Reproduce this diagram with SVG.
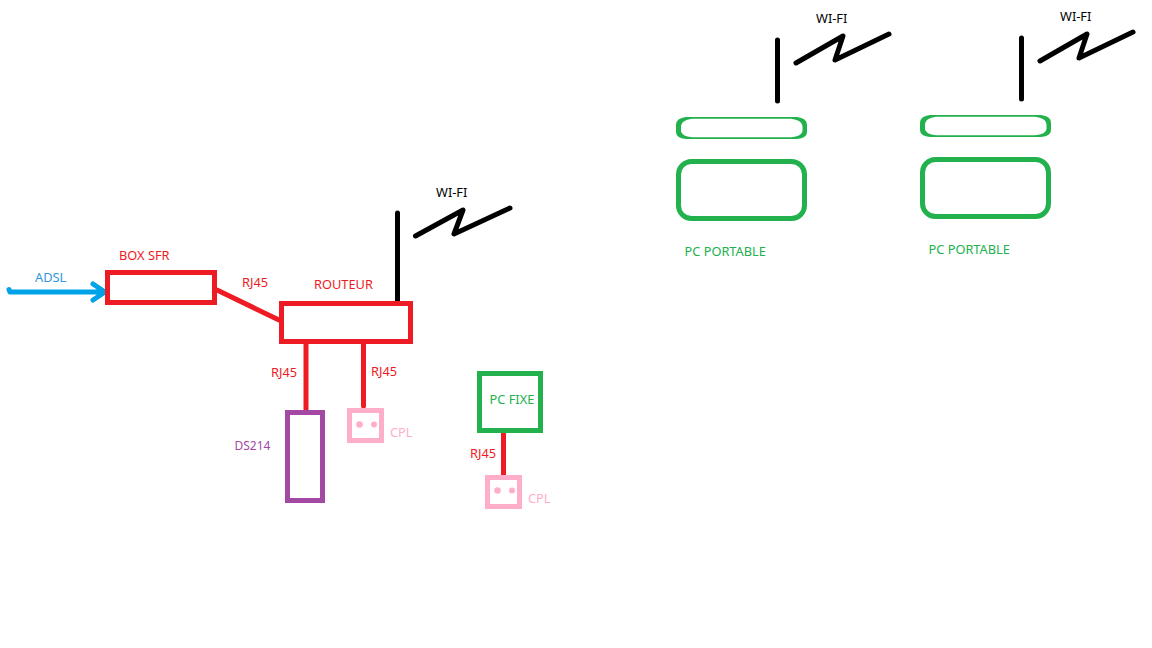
<svg xmlns="http://www.w3.org/2000/svg" width="1152" height="648" viewBox="0 0 1152 648">
<style>
text{font-family:"Noto Sans","Open Sans","Liberation Sans",sans-serif;font-size:12.800px}
.box{fill:none;stroke-width:5}
.red{stroke:#ed1c24}.grn{stroke:#22b14c}.pur{stroke:#a349a4}.pnk{stroke:#ffaec9}
.tr{fill:#ed1c24}.tg{fill:#22b14c}.tp{fill:#ffaec9}.tv{fill:#a349a4}.tb{fill:#2f96dc}.tk{fill:#000}
.wire{fill:none;stroke-width:5;stroke-linecap:round;stroke-linejoin:round}
.ant{stroke:#000}.blue{stroke:#00a2e8}
.dot{fill:#ffaec9}
</style>
<defs>
<g id="lapTop"><path fill="#22b14c" fill-rule="evenodd" d="M686 117H797Q807 118 807 125V132Q807 138 797 139H686Q676 138 676 132V125Q676 118 686 117ZM692 118.800H791Q802 120 802.500 126V131Q802 136.500 791 137.200H692Q681.500 136.500 681 131V126Q681.500 120 692 118.800Z"/></g>
<g id="antenna"><path class="wire ant" d="M777.500 40V101"/><path class="wire ant" d="M796 63L843 36L835 60L889 34"/></g>
</defs>
<g id="connectors">
<path class="wire blue" d="M9 289.500L10 292H105M93 284L105 292L93 300"/>
<path class="wire red" d="M217 290L279 320" stroke-linecap="butt"/>
<path class="wire red" d="M306 342V409"/>
<path class="wire red" d="M363.500 342V406"/>
<path class="wire red" d="M503.500 432V475"/>
<path class="wire ant" d="M397.500 213V301"/>
<path class="wire ant" d="M415.500 236L463 210L454 234L510 208"/>
<use href="#antenna"/>
<use href="#antenna" transform="translate(244 -2)"/>
</g>
<g id="adsl"><text class="tb" x="35" y="282">ADSL</text></g>
<g id="box-sfr"><rect class="box red" x="107.500" y="272.500" width="107" height="30"/><text class="tr" x="119" y="260">BOX SFR</text></g>
<g id="rj45-a"><text class="tr" x="242" y="287">RJ45</text></g>
<g id="routeur"><rect class="box red" x="281.500" y="303.500" width="129" height="38"/><text class="tr" x="314" y="289">ROUTEUR</text></g>
<g id="wifi-routeur"><text class="tk" x="436" y="197">WI-FI</text></g>
<g id="rj45-b"><text class="tr" x="271" y="377">RJ45</text></g>
<g id="rj45-c"><text class="tr" x="371" y="376">RJ45</text></g>
<g id="ds214"><rect class="box pur" x="287.500" y="412.500" width="35" height="88"/><text class="tv" x="234.500" y="450" style="font-size:12px">DS214</text></g>
<g id="cpl-1"><rect class="box pnk" x="349.500" y="410.500" width="32" height="30"/><circle class="dot" cx="359.500" cy="424.500" r="3.300"/><circle class="dot" cx="374" cy="424.500" r="3"/><text class="tp" x="390" y="437">CPL</text></g>
<g id="pc-fixe"><rect class="box grn" x="479.500" y="373.500" width="61" height="57"/><text class="tg" x="489.500" y="404">PC FIXE</text></g>
<g id="rj45-d"><text class="tr" x="470" y="458">RJ45</text></g>
<g id="cpl-2"><rect class="box pnk" x="487.500" y="477.500" width="32" height="29"/><circle class="dot" cx="497.500" cy="490.500" r="3.300"/><circle class="dot" cx="512" cy="490.500" r="3"/><text class="tp" x="528" y="503">CPL</text></g>
<g id="laptop-1"><use href="#lapTop"/><rect class="box grn" x="678.500" y="161.500" width="126" height="57" rx="13"/><text class="tg" x="684.500" y="256">PC PORTABLE</text></g>
<g id="wifi-1"><text class="tk" x="816" y="23">WI-FI</text></g>
<g id="laptop-2"><use href="#lapTop" transform="translate(244 -2)"/><rect class="box grn" x="922.500" y="159.500" width="126" height="57" rx="13"/><text class="tg" x="928.500" y="254">PC PORTABLE</text></g>
<g id="wifi-2"><text class="tk" x="1060" y="21">WI-FI</text></g>
</svg>
